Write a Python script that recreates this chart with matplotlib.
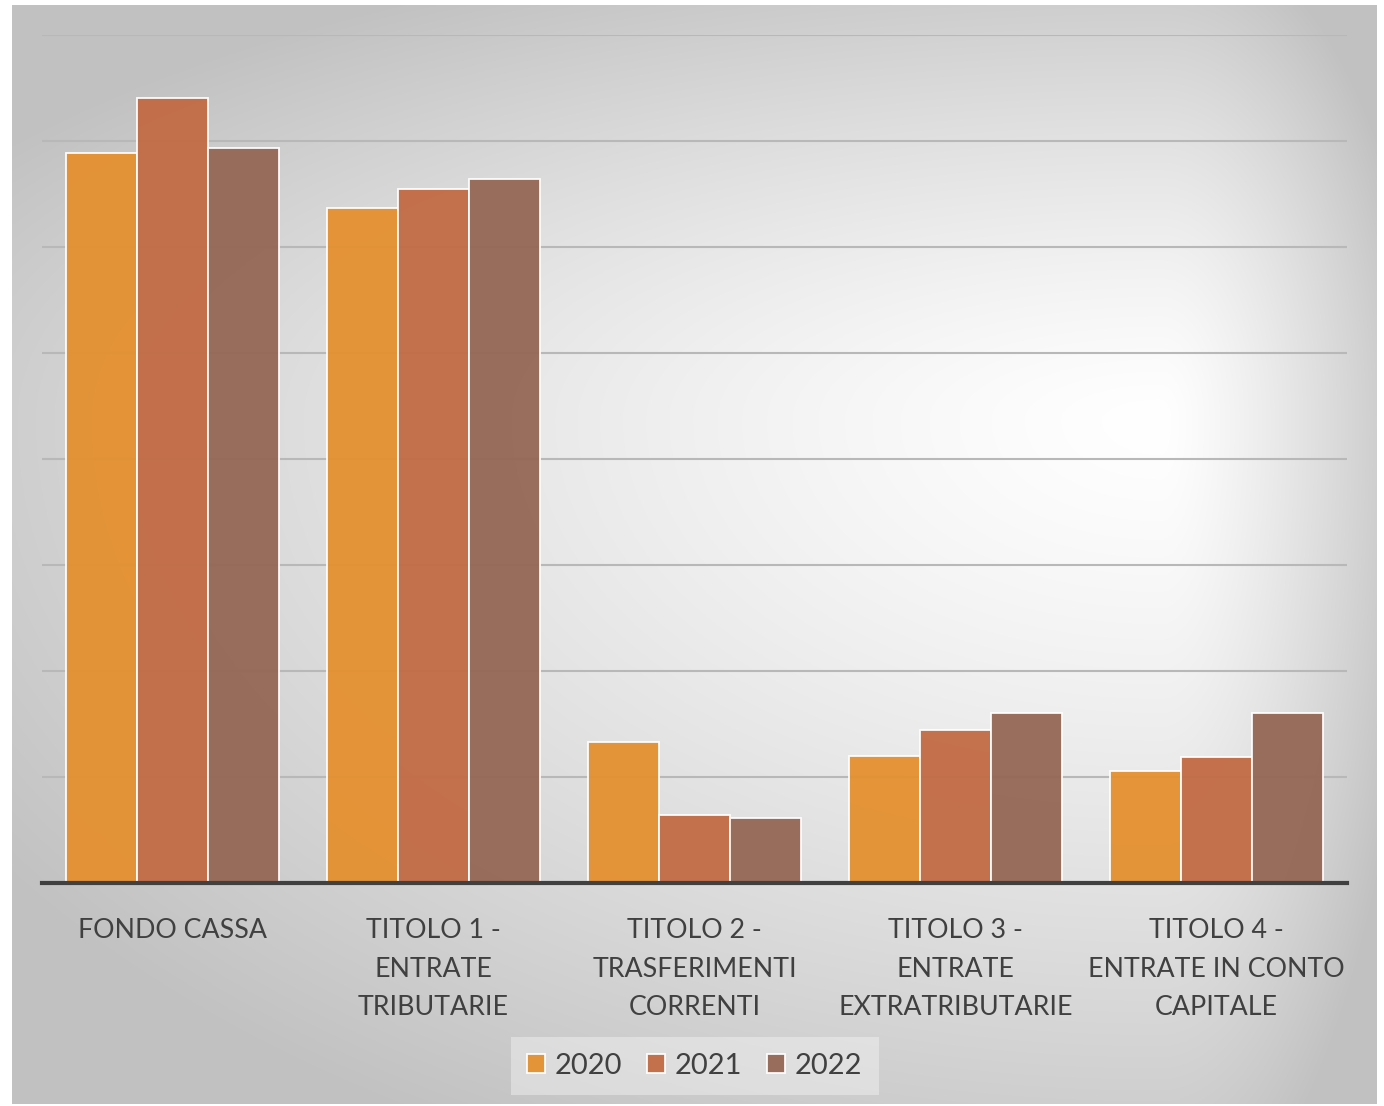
import numpy as np
import matplotlib
matplotlib.use("Agg")
import matplotlib.pyplot as plt

plt.rcParams['font.family'] = ['Lato', 'DejaVu Sans']

# dati (unità = griglia)
categorie = ["FONDO CASSA", "TITOLO 1 -\nENTRATE\nTRIBUTARIE",
             "TITOLO 2 -\nTRASFERIMENTI\nCORRENTI",
             "TITOLO 3 -\nENTRATE\nEXTRATRIBUTARIE",
             "TITOLO 4 -\nENTRATE IN CONTO\nCAPITALE"]
anni = ["2020", "2021", "2022"]
v2020 = [6.89, 6.37, 1.33, 1.20, 1.06]
v2021 = [7.41, 6.55, 0.64, 1.44, 1.19]
v2022 = [6.93, 6.64, 0.61, 1.60, 1.60]
colori = ["#E5902F", "#C26A44", "#956755"]

W, H = 1384, 1106
fig = plt.figure(figsize=(W / 100, H / 100), dpi=100)
fig.patch.set_facecolor("white")

# sfondo con gradiente radiale
bx0, bx1, by0, by1 = 12, 1377, 5, 1104
bg = fig.add_axes([bx0 / W, 1 - by1 / H, (bx1 - bx0) / W, (by1 - by0) / H])
xs = np.arange(bx0, bx1)
ys = np.arange(by0, by1)
X, Y = np.meshgrid(xs, ys)
cx, cy = 1160, 420
dx = np.where(X < cx, (X - cx) / (cx - bx0), (X - cx) / (bx1 - cx))
dy = np.where(Y < cy, (Y - cy) / (cy - by0), (Y - cy) / (by1 - cy))
t = np.clip(np.sqrt(dx ** 2 + dy ** 2) / 1.2, 0, 1)
g = 1.0 - 0.24 * t ** 1.3
bg.imshow(np.dstack([g, g, g]), aspect="auto", interpolation="bilinear")
bg.set_axis_off()

ax = fig.add_axes([42 / W, 1 - 883 / H, (1347 - 42) / W, (883 - 35) / H])
ax.patch.set_alpha(0)

x = np.arange(len(categorie))
w = 0.272
for i, (vals, nome) in enumerate(zip([v2020, v2021, v2022], anni)):
    ax.bar(x + (i - 1) * w, vals, width=w, color=colori[i], alpha=0.95,
           edgecolor=(1, 1, 1, 0.45), linewidth=1.3, label=nome, zorder=3)

ax.set_xlim(-0.5, len(categorie) - 0.5)
ax.set_ylim(0, 8)
ax.set_yticks(np.arange(1, 9))
ax.yaxis.grid(True, color="#b8b8b8", linewidth=1.5, zorder=0)
ax.tick_params(axis="y", left=False, labelleft=False)
ax.tick_params(axis="x", bottom=False, pad=22)
ax.set_xticks(x)
ax.set_xticklabels(categorie, fontsize=19.3, color="#404040", linespacing=1.67,
                   va="top")
for s in ["left", "right", "top"]:
    ax.spines[s].set_visible(False)
ax.spines["bottom"].set_color("#404040")
ax.spines["bottom"].set_linewidth(3)
ax.spines["bottom"].set_zorder(5)

leg = fig.legend(loc="center", bbox_to_anchor=(695 / W, 1 - 1066 / H), ncol=3,
                 frameon=True, fontsize=21, handlelength=0.6, handleheight=0.6,
                 handletextpad=0.35, columnspacing=0.85, borderpad=0.25)
leg.get_frame().set_facecolor("#f4f4f4")
leg.get_frame().set_alpha(0.45)
leg.get_frame().set_edgecolor("none")
leg.get_frame().set_boxstyle("square")
for txt in leg.get_texts():
    txt.set_color("#404040")

fig.savefig("out.png", dpi=100)
